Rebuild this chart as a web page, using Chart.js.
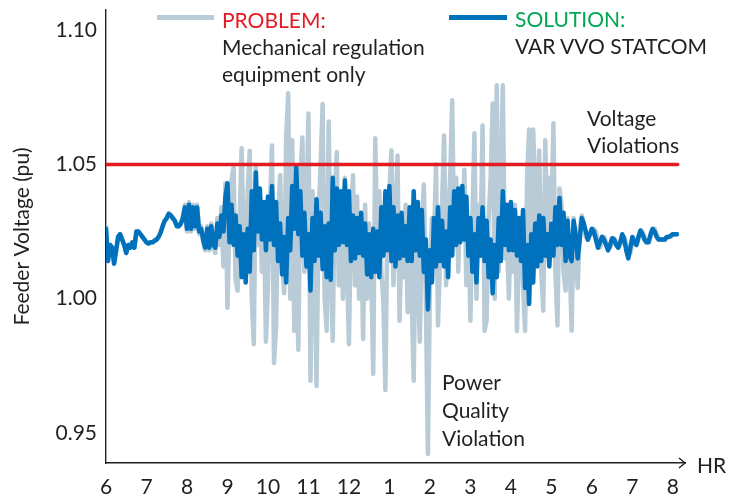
<!DOCTYPE html>
<html><head><meta charset="utf-8">
<script src="https://cdn.jsdelivr.net/npm/chart.js@4.4.1/dist/chart.umd.min.js"></script>
<style>
html,body{margin:0;padding:0;background:#fff;}
#wrap{position:relative;width:738px;height:497px;overflow:hidden;font-family:Lato,sans-serif;color:#231f20;}
canvas{position:absolute;left:0;top:0;}
.t{position:absolute;font-size:21px;line-height:27px;white-space:nowrap;}
.sw{position:absolute;height:5px;}
</style></head><body>
<div id="wrap">
<canvas id="c" width="738" height="497"></canvas>
<div class="sw" style="left:157px;top:15px;width:57px;background:#b9cbd6"></div>
<div class="t" style="left:222px;top:6px"><span style="color:#e31b23">PROBLEM:</span><br>Mechanical regulation<br>equipment only</div>
<div class="sw" style="left:449px;top:15px;width:58px;background:#0071bc"></div>
<div class="t" style="left:515px;top:5px"><span style="color:#00a651">SOLUTION:</span><br>VAR VVO STATCOM</div>
<div class="t" style="left:587px;top:104px">Voltage<br>Violations</div>
<div class="t" style="left:442px;top:368px;line-height:28px">Power<br>Quality<br>Violation</div>
<div class="t" style="left:697px;top:451px">HR</div>
</div>
<script>
// sampling of the recorded traces
const START_HR = 6;
const STEP_HR = 0.05;

const hourTicks  = [6, 7, 8, 9, 10, 11, 12, 13, 14, 15, 16, 17, 18, 19, 20];
const hourLabels = ['6','7','8','9','10','11','12','1','2','3','4','5','6','7','8'];
const voltTicks  = [0.95, 1.00, 1.05, 1.10];

const limitHours = [6, 20.12];
const limitVolts = [1.05, 1.05];

// PROBLEM: mechanical regulation equipment only (pu)
const problemVolts = [
 1.027,1.015,1.020,1.019,1.014,1.018,1.023,1.024,1.022,1.020,
 1.017,1.020,1.019,1.021,1.019,1.025,1.025,1.024,1.023,1.022,
 1.021,1.021,1.021,1.021,1.022,1.022,1.023,1.025,1.027,1.029,
 1.030,1.032,1.031,1.030,1.029,1.027,1.027,1.028,1.031,1.035,
 1.025,1.036,1.025,1.035,1.026,1.035,1.024,1.027,1.021,1.018,
 1.027,1.018,1.028,1.019,1.017,1.030,1.020,1.034,1.012,1.043,
 0.9966,1.030,1.044,1.049,1.007,1.003,1.030,1.056,1.020,1.010,
 1.040,1.055,1.000,0.983,1.049,1.020,1.038,1.010,1.030,0.984,
 1.005,1.035,1.057,0.976,0.990,1.030,1.046,1.015,1.002,1.060,
 1.0765,1.000,1.059,0.988,1.025,0.981,1.045,1.060,1.010,1.030,
 1.069,0.9694,1.040,1.010,0.9675,1.030,1.050,1.0725,1.000,0.988,
 1.066,1.010,0.9843,1.040,1.0545,1.005,1.035,1.000,1.045,1.012,
 0.983,1.030,1.046,1.005,1.038,1.000,1.030,0.985,1.035,1.000,
 1.028,1.010,0.972,1.0597,1.020,1.040,1.010,0.9993,0.966,1.030,
 1.040,1.0552,1.005,1.030,1.0533,0.9918,1.025,1.008,1.035,0.995,
 1.030,1.000,0.9694,1.035,1.010,0.984,1.025,1.0425,1.000,0.9422,
 1.005,1.030,1.020,1.050,0.990,1.015,1.035,1.0608,1.005,1.030,
 1.045,1.0739,1.020,1.045,1.010,1.040,1.025,1.048,1.005,1.030,
 0.9918,1.030,1.0616,1.000,1.035,1.020,1.0645,0.988,0.9918,1.030,
 1.045,1.0727,1.000,1.0795,1.010,1.040,1.0795,1.015,1.025,1.000,
 1.030,1.010,1.035,0.988,1.020,1.030,1.005,0.988,1.045,1.063,
 1.020,1.063,1.040,1.020,1.0552,1.010,0.9955,1.059,1.020,1.045,
 1.030,1.0653,1.010,0.990,1.041,1.035,1.010,1.003,1.030,1.015,
 0.9881,1.030,1.018,1.004,1.026,1.031,1.028,1.023,1.022,1.024,
 1.024,1.026,1.025,1.021,1.019,1.022,1.023,1.021,1.019,1.019,
 1.021,1.0225,1.021,1.019,1.020,1.022,1.023,1.020,1.016,1.017,
 1.021,1.022,1.020,1.022,1.025,1.025,1.023,1.021,1.021,1.023,
 1.025,1.026,1.024,1.022,1.022,1.022,1.022,1.023,1.023,1.023,
 1.024,1.024,1.024
];

// SOLUTION: VAR VVO STATCOM (pu)
const solutionVolts = [
 1.026,1.014,1.020,1.019,1.013,1.018,1.023,1.024,1.022,1.020,
 1.017,1.020,1.019,1.021,1.019,1.025,1.025,1.024,1.023,1.022,
 1.021,1.0205,1.021,1.021,1.0215,1.022,1.023,1.0246,1.027,1.029,
 1.030,1.0315,1.031,1.030,1.029,1.027,1.027,1.028,1.030,1.034,
 1.026,1.035,1.026,1.034,1.027,1.034,1.025,1.026,1.022,1.019,
 1.026,1.019,1.027,1.020,1.019,1.028,1.023,1.031,1.025,1.038,
 1.043,1.021,1.035,1.020,1.031,1.016,1.027,1.008,1.024,1.006,
 1.026,1.010,1.040,1.018,1.047,1.025,1.041,1.022,1.036,1.018,
 1.038,1.022,1.042,1.020,1.036,1.014,1.028,1.009,1.023,1.006,
 1.030,1.018,1.042,1.026,1.049,1.024,1.040,1.016,1.032,1.012,
 1.024,1.003,1.030,1.014,1.037,1.016,1.032,1.011,1.027,1.008,
 1.028,1.007,1.045,1.018,1.041,1.020,1.040,1.021,1.044,1.020,
 1.040,1.014,1.031,1.015,1.030,1.017,1.032,1.016,1.028,1.009,
 1.024,1.008,1.026,1.010,1.025,1.008,1.034,1.016,1.040,1.018,
 1.042,1.014,1.034,1.012,1.031,1.015,1.032,1.016,1.027,1.014,
 1.034,1.014,1.040,1.018,1.036,1.016,1.033,1.010,1.022,0.996,
 1.018,1.006,1.030,1.012,1.034,1.014,1.029,1.012,1.025,1.008,
 1.034,1.016,1.040,1.020,1.041,1.021,1.042,1.022,1.038,1.016,
 1.030,1.010,1.024,1.006,1.030,1.016,1.034,1.014,1.029,1.008,
 1.022,1.002,1.020,1.008,1.030,1.014,1.040,1.020,1.035,1.018,
 1.036,1.018,1.033,1.016,1.030,1.014,1.033,1.004,1.020,0.998,
 1.024,1.006,1.028,1.012,1.031,1.014,1.030,1.016,1.024,1.012,
 1.028,1.016,1.034,1.020,1.0375,1.020,1.032,1.014,1.029,1.016,
 1.014,1.029,1.024,1.015,1.022,1.030,1.028,1.025,1.022,1.024,
 1.026,1.025,1.022,1.019,1.021,1.023,1.022,1.020,1.018,1.020,
 1.0225,1.022,1.020,1.019,1.021,1.024,1.022,1.018,1.015,1.019,
 1.023,1.021,1.020,1.023,1.0254,1.024,1.022,1.021,1.021,1.024,
 1.026,1.025,1.023,1.022,1.022,1.022,1.022,1.023,1.023,1.0235,
 1.024,1.024,1.024
];

const toPoints = vals => vals.map((v, i) => ({x: START_HR + i * STEP_HR, y: v}));
const INK = '#231f20';
const FONT = {family: 'Lato', size: 21};

const arrowPlugin = {
  id: 'axisArrow',
  afterDraw(chart) {
    const {ctx, chartArea: a} = chart;
    ctx.save();
    ctx.strokeStyle = INK;
    ctx.lineWidth = 1.4;
    ctx.beginPath();
    ctx.moveTo(a.right - 6, a.bottom - 5);
    ctx.lineTo(a.right, a.bottom);
    ctx.lineTo(a.right - 6, a.bottom + 5);
    ctx.stroke();
    ctx.restore();
  }
};

new Chart(document.getElementById('c'), {
  type: 'line',
  data: {
    datasets: [
      {label: 'limit', data: limitHours.map((h, i) => ({x: h, y: limitVolts[i]})),
       borderColor: '#e31b23', borderWidth: 3.5, order: 0},
      {label: 'SOLUTION', data: toPoints(solutionVolts),
       borderColor: '#0071bc', borderWidth: 4.5, order: 1},
      {label: 'PROBLEM', data: toPoints(problemVolts),
       borderColor: '#b9cbd6', borderWidth: 4.5, order: 2}
    ]
  },
  options: {
    responsive: false,
    animation: false,
    devicePixelRatio: 1,
    layout: {padding: {left: 0, right: 53, top: 10, bottom: 0}},
    elements: {point: {radius: 0}, line: {tension: 0, borderJoinStyle: 'round', borderCapStyle: 'round', fill: false}},
    plugins: {legend: {display: false}, tooltip: {enabled: false}},
    scales: {
      x: {
        type: 'linear', min: 6, max: 20.3,
        grid: {display: false, drawTicks: false},
        border: {display: true, color: INK, width: 1.4},
        afterBuildTicks: s => { s.ticks = hourTicks.map(v => ({value: v})); },
        afterFit: s => { s.height = 34; s.paddingLeft = 0; s.paddingRight = 0; },
        ticks: {autoSkip: false, maxRotation: 0, padding: 12, color: INK, font: FONT,
                callback: (v, i) => hourLabels[i]}
      },
      y: {
        type: 'linear', min: 0.9388, max: 1.1075,
        grid: {display: false, drawTicks: false},
        border: {display: true, color: INK, width: 1.4},
        afterBuildTicks: s => { s.ticks = voltTicks.map(v => ({value: v})); },
        afterFit: s => { s.width = 106; s.paddingTop = 0; s.paddingBottom = 0; },
        ticks: {padding: 9, color: INK, font: FONT, callback: v => v.toFixed(2)},
        title: {display: true, text: 'Feeder Voltage (pu)', color: INK, font: FONT, padding: {top: 10, bottom: 0}}
      }
    }
  },
  plugins: [arrowPlugin]
});
</script>
</body></html>
